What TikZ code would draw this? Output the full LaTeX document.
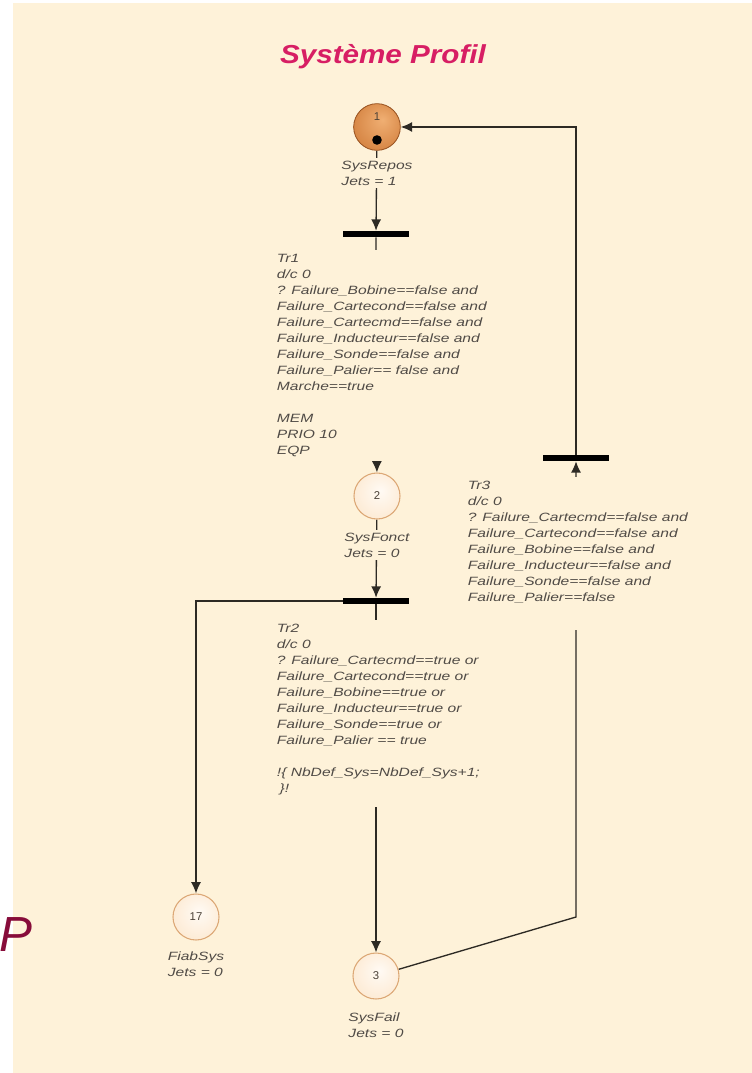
\documentclass[tikz,border=0pt]{standalone}
\usepackage{fontspec}
\setmainfont{Liberation Sans}
\newfontfamily\lblfont{Liberation Sans}[FakeStretch=1.3]
\newfontfamily\titlefont{Liberation Sans}[FakeStretch=1.14]
\usetikzlibrary{arrows.meta}
\definecolor{bgcream}{RGB}{254,242,217}
\definecolor{linec}{RGB}{45,42,36}
\definecolor{txtc}{RGB}{80,75,70}
\definecolor{numc}{RGB}{75,65,55}
\definecolor{titlec}{RGB}{215,30,100}
\definecolor{pcolor}{RGB}{135,12,58}
\definecolor{lightborder}{RGB}{220,168,118}
\definecolor{markborder}{RGB}{150,80,30}
\definecolor{lin}{RGB}{255,250,244}
\definecolor{lmid}{RGB}{253,235,213}
\definecolor{lout}{RGB}{240,198,155}
\definecolor{min}{RGB}{240,175,115}
\definecolor{mmid}{RGB}{215,135,70}
\definecolor{mout}{RGB}{185,100,40}
\pgfdeclareradialshading{lightplace}{\pgfpoint{4bp}{6bp}}{color(0bp)=(lin); color(28bp)=(lmid); color(50bp)=(lout)}
\pgfdeclareradialshading{darkplace}{\pgfpoint{6bp}{8bp}}{color(0bp)=(min); color(28bp)=(mmid); color(50bp)=(mout)}
\pgfdeclarelayer{back}
\pgfdeclarelayer{arcs}
\pgfsetlayers{back,arcs,main}
\tikzset{
  arc/.style={draw=linec, line width=1pt, -{Latex[length=8.5pt,width=7.5pt]}},
  place/.style={circle, minimum size=34.5pt, inner sep=0pt, draw=lightborder, line width=0.8pt, shading=lightplace},
  markedplace/.style={circle, minimum size=35pt, inner sep=0pt, draw=markborder, line width=0.6pt, shading=darkplace},
  trans/.style={rectangle, fill=black, minimum width=49.5pt, minimum height=4.5pt, inner sep=0pt},
  pnum/.style={font=\fontsize{8.5}{10}\selectfont, text=numc, inner sep=0pt},
  plabel/.style={font=\lblfont\itshape\fontsize{9}{12}\selectfont, text=txtc, align=left, anchor=north, fill=bgcream, inner xsep=1pt, inner ysep=2pt},
  tlabel/.style={font=\lblfont\itshape\fontsize{9}{12}\selectfont, text=txtc, align=left, anchor=north west, fill=bgcream, inner xsep=2pt, inner ysep=3pt},
}
\begin{document}
\begin{tikzpicture}[x=0.75pt,y=-0.75pt]
\useasboundingbox (0,0) rectangle (752,1073);
\begin{pgfonlayer}{back}
\fill[white] (0,0) rectangle (752,1073);
\fill[bgcream] (13,3) rectangle (752,1073);
\end{pgfonlayer}

% title and stray letter
\node[font=\titlefont\bfseries\itshape\fontsize{19.5}{22}\selectfont, text=titlec, inner sep=0pt] (title) at (383,57) {Système Profil};
\node[font=\itshape\fontsize{37}{40}\selectfont, text=pcolor, inner sep=0pt, anchor=base west] (pletter) at (-1,951) {P};

% places
\node[markedplace] (p1) at (377,127) {};
\node[pnum] (p1n) at (377,117) {1};
\fill[black] (377,140) circle (3.6pt);
\node[place] (p2) at (377,496) {};
\node[pnum] (p2n) at (377,496) {2};
\node[place] (p17) at (196,917) {};
\node[pnum] (p17n) at (196,917) {17};
\node[place] (p3) at (376,976) {};
\node[pnum] (p3n) at (376,976) {3};

% place labels
\node[plabel] (p1l) at (377,158) {SysRepos\\Jets = 1};
\node[plabel] (p2l) at (377,530) {SysFonct\\Jets = 0};
\node[plabel] (p17l) at (196,949) {FiabSys\\Jets = 0};
\node[plabel] (p3l) at (376,1010) {SysFail\\Jets = 0};

% transitions
\node[trans] (t1) at (376,234) {};
\node[trans] (t2) at (376,601) {};
\node[trans] (t3) at (576,458) {};
\coordinate (c3) at (576,917);

% transition labels
\node[tlabel] (t1l) at (274,250) {Tr1\\d/c 0\\? Failure\_Bobine==false and\\Failure\_Cartecond==false and\\Failure\_Cartecmd==false and\\Failure\_Inducteur==false and\\Failure\_Sonde==false and\\Failure\_Palier== false and\\Marche==true\\[12pt]MEM\\PRIO 10\\EQP};
\node[tlabel, text depth=8pt] (t2l) at (274,620) {Tr2\\d/c 0\\? Failure\_Cartecmd==true or\\Failure\_Cartecond==true or\\Failure\_Bobine==true or\\Failure\_Inducteur==true or\\Failure\_Sonde==true or\\Failure\_Palier == true\\[12pt]!\{ NbDef\_Sys=NbDef\_Sys+1;\\\hspace{2pt}\}!};
\node[tlabel, text depth=18pt] (t3l) at (465,477) {Tr3\\d/c 0\\? Failure\_Cartecmd==false and\\Failure\_Cartecond==false and\\Failure\_Bobine==false and\\Failure\_Inducteur==false and\\Failure\_Sonde==false and\\Failure\_Palier==false};

% arcs
\begin{pgfonlayer}{arcs}
\draw[arc] (p1) -- (t1);
\draw[arc] (t1) -- (p2);
\draw[arc] (p2) -- (t2);
\draw[arc] (t2) -- (p3);
\draw[arc] (t2.west) -| (p17);
\draw[arc] (p3) -- (c3) -- (t3);
\draw[arc] (t3) |- (p1);
\end{pgfonlayer}
\end{tikzpicture}
\end{document}
